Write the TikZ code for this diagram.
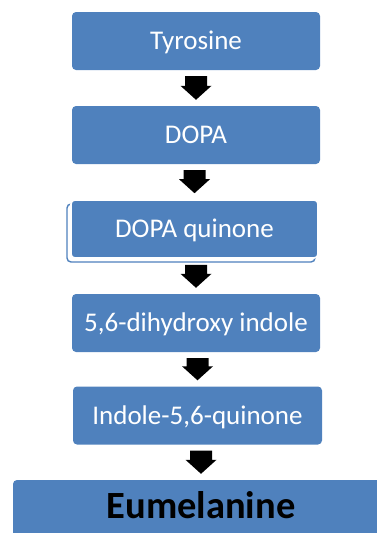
\documentclass[tikz,border=0pt]{standalone}
\usepackage{fontspec}
\setmainfont{Carlito}
\usetikzlibrary{calc}
\definecolor{boxblue}{HTML}{4F81BD}
\tikzset{
  stepbox/.style={fill=boxblue, rounded corners=4pt, text=white,
    font=\fontsize{27}{30}\selectfont, inner sep=0pt,
    minimum width=248pt, minimum height=58pt,
    text height=17.4pt, text depth=0pt, align=center},
  finalbox/.style={fill=boxblue, rounded corners=4pt, text=black,
    font=\fontsize{38.5}{42}\selectfont\bfseries, inner sep=0pt,
    minimum width=376pt, minimum height=70pt,
    text height=24.8pt, text depth=18.8pt},
  shadowline/.style={draw=boxblue, line width=1.4pt, fill=white, rounded corners=4pt},
  blockarrow/.style={fill=black},
}
\newcommand{\flowarrow}[2]{%
  \coordinate (T) at ($(#2.north |- #1.south)+(0,-6pt)$);
  \coordinate (P) at ($(#2.north)+(0,6pt)$);
  \fill[blockarrow] ($(T)+(-11pt,0)$) -- ($(T)+(11pt,0)$) -- ($(P)+(11pt,14pt)$)
    -- ($(P)+(15.5pt,14pt)$) -- (P) -- ($(P)+(-15.5pt,14pt)$)
    -- ($(P)+(-11pt,14pt)$) -- cycle;}
\begin{document}
\begin{tikzpicture}[x=1pt,y=1pt]
\useasboundingbox (0,0) rectangle (377,-533);
\node[stepbox] (b1) at (196,-41) {Tyrosine};
\node[stepbox] (b2) at (196,-135) {DOPA};
\draw[shadowline] (67,-204) rectangle (315,-262);
\node[stepbox, minimum width=247pt, draw=white, line width=1.6pt] (b3) at (194.5,-229) {DOPA quinone};
\node[stepbox] (b4) at (196,-323) {5,6-dihydroxy indole};
\node[stepbox, minimum width=249pt] (b5) at (197.5,-415.5) {Indole-5,6-quinone};
\node[finalbox] (b6) at (201,-515) {Eumelanine};
\flowarrow{b1}{b2}
\flowarrow{b2}{b3}
\flowarrow{b3}{b4}
\flowarrow{b4}{b5}
\flowarrow{b5}{b6}
\end{tikzpicture}
\end{document}
